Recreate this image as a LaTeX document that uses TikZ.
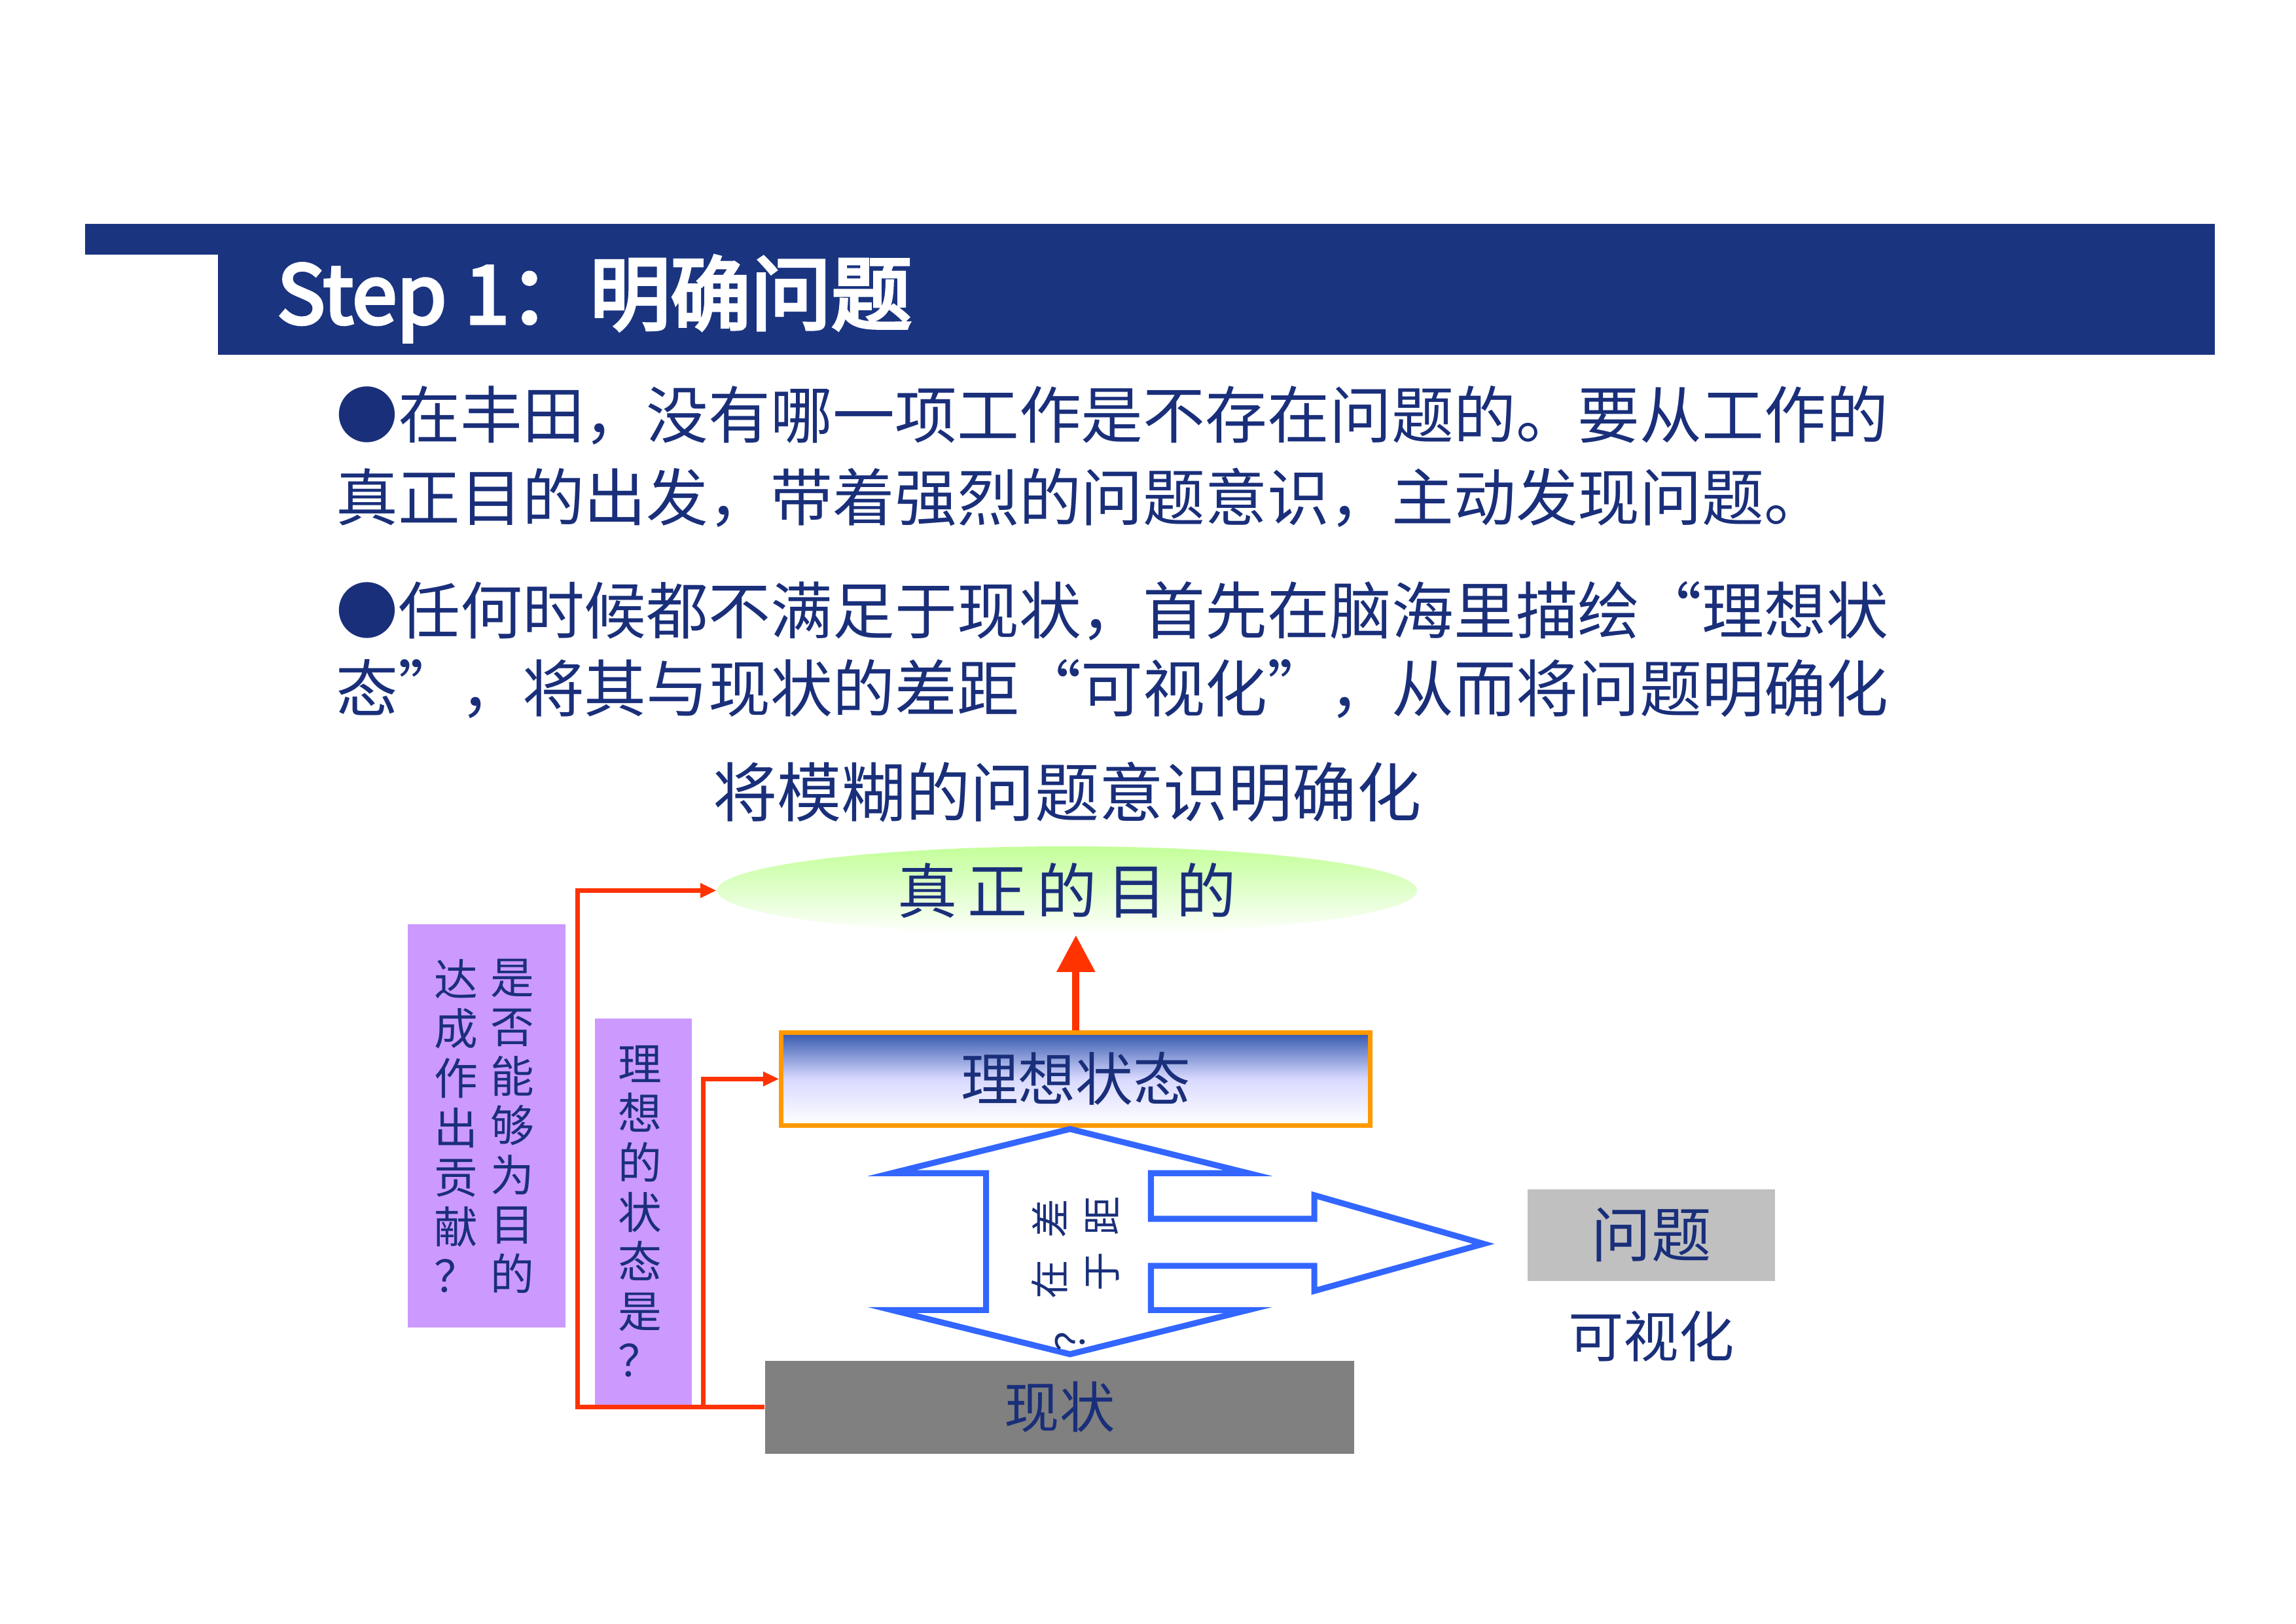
\documentclass[tikz,border=0pt]{standalone}
\usepackage{fontspec}
\setmainfont{Noto Sans CJK SC}
\newfontfamily\titlef[FakeBold=4]{Noto Sans CJK SC}
\usetikzlibrary{arrows.meta,shapes.geometric,calc}
\definecolor{hdr}{HTML}{1A3480}
\definecolor{txt}{HTML}{1A2F7A}
\definecolor{redl}{HTML}{FF3300}
\definecolor{orl}{HTML}{FF9900}
\definecolor{purp}{HTML}{CC99FF}
\definecolor{arrb}{HTML}{3366FF}
\definecolor{gboxd}{HTML}{808080}
\definecolor{gboxl}{HTML}{C0C0C0}
\tikzset{
  para/.style={anchor=west,text=txt,font=\fontsize{27}{30}\selectfont,inner sep=0pt},
  lbl/.style={text=txt,inner sep=0pt},
  rl/.style={text=txt,inner sep=0pt,rotate=90,font=\fontsize{17}{19}\selectfont},
  vcol/.style={text=txt,align=center,inner sep=0pt,font=\fontsize{19}{21.5}\selectfont},
  conn/.style={draw=redl,line width=2pt,-{Triangle[length=7pt,width=6pt]}},
}
\begin{document}
\begin{tikzpicture}[x=0.02249cm,y=-0.02249cm]
\useasboundingbox (0,0) rectangle (1560,1103);
% header
\fill[hdr] (148,152) rectangle (1505,241);
\fill[hdr] (58,152) rectangle (148,173);
\node[anchor=west,text=white,inner sep=0pt,font=\titlef\fontsize{35}{38}\selectfont] (title) at (188,203) {Step 1：明确问题};
% paragraphs
\node[para] (p1) at (228,282) {●在丰田，没有哪一项工作是不存在问题的。要从工作的};
\node[para] (p2) at (228,338) {真正目的出发，带着强烈的问题意识，主动发现问题。};
\node[para] (p3) at (228,415) {●任何时候都不满足于现状，首先在脑海里描绘“理想状};
\node[para] (p4) at (228,468) {态”，将其与现状的差距“可视化”，从而将问题明确化};
\node[lbl,font=\fontsize{28}{30}\selectfont] (vague) at (725,538) {将模糊的问题意识明确化};
% goal ellipse
\node[ellipse,inner sep=0pt,top color=green!45!lime!40!white,bottom color=white,
      minimum width=10.7cm,minimum height=1.35cm] (goal) at (725,605) {};
\node[lbl,font=\fontsize{26}{28}\selectfont] at (goal) {真\,正\,的\,目\,的};
% ideal box
\node[draw=orl,line width=2pt,top color=blue!70!cyan!60!black!80,bottom color=white,middle color=white!85!blue,
      minimum width=9.0cm,minimum height=1.42cm,inner sep=0pt] (ideal) at (731,733) {};
\node[lbl,font=\fontsize{25}{28}\selectfont] at (ideal) {理想状态};
% current box
\node[fill=gboxd,minimum width=9.0cm,minimum height=1.42cm,inner sep=0pt] (now) at (720,956) {};
\node[lbl,font=\fontsize{24}{28}\selectfont] at (now) {现状};
% problem box
\node[fill=gboxl,minimum width=3.78cm,minimum height=1.40cm,inner sep=0pt] (prob) at (1122,839) {};
\node[lbl,font=\fontsize{26}{28}\selectfont] at (prob) {问题};
\node[lbl,font=\fontsize{24}{28}\selectfont] (vis) at (1122,908) {可视化};
% up arrow
\draw[draw=redl,line width=3.2pt,-{Triangle[length=16pt,width=16pt]}] (ideal.north) -- (ideal.north |- goal.south);
% double arrow
\draw[arrb,line width=2.6pt,fill=white,line join=miter]
  (727,767) -- (848,797) -- (782,797) -- (782,828) -- (893,828) -- (893,812) -- (1008,845)
  -- (893,877) -- (893,860) -- (782,860) -- (782,890) -- (848,890) -- (727,920)
  -- (606,890) -- (670,890) -- (670,797) -- (606,797) -- cycle;
\node[rl] at (713,828) {差};
\node[rl] at (749,826) {距};
\node[rl] at (713,869) {在};
\node[rl] at (749,864) {于};
\node[rl] at (727,905) {？};
% purple boxes
\node[fill=purp,minimum width=2.41cm,minimum height=6.16cm,inner sep=0pt] (pb1) at (330.5,765) {};
\node[vcol] at (348,765) {是\\否\\能\\够\\为\\目\\的};
\node[vcol] at (310,765) {达\\成\\作\\出\\贡\\献\\？};
\node[fill=purp,minimum width=1.48cm,minimum height=5.92cm,inner sep=0pt] (pb2) at (437,823.5) {};
\node[vcol] at (435,823) {理\\想\\的\\状\\态\\是\\？};
% red connectors
\draw[conn] (now.west) -- ++(-127,0) |- (goal.west);
\draw[conn] ($(now.west)+(-42,0)$) |- (ideal.west);
\end{tikzpicture}
\end{document}
